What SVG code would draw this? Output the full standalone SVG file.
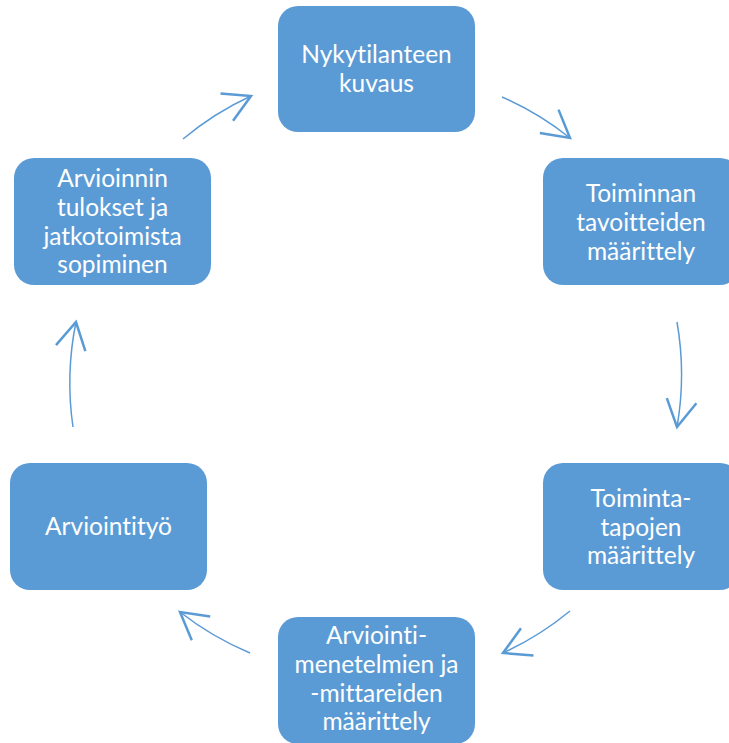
<svg xmlns="http://www.w3.org/2000/svg" width="729" height="743" viewBox="0 0 729 743">
<style>
.box{fill:#5B9BD5;}
.lbl{font-family:Lato,"Liberation Sans",Arial,sans-serif;font-size:24.5px;fill:#FFFFFF;text-anchor:middle;font-variant-ligatures:none;font-feature-settings:"liga" 0,"clig" 0,"dlig" 0;}
.conn{fill:none;stroke:#5B9BD5;stroke-width:1.5;marker-end:url(#ah);}
</style>
<defs>
<marker id="ah" markerUnits="userSpaceOnUse" markerWidth="40" markerHeight="40" viewBox="-20 -12 22 24" refX="0" refY="0" orient="auto" overflow="visible">
<path d="M-16,-9 L0,0 L-16,9" fill="none" stroke="#5B9BD5" stroke-width="1.5"/>
</marker>
</defs>
<rect width="729" height="743" fill="#FFFFFF"/>
<g id="connectors">
<path class="conn" d="M183,139 A305,305 0 0 1 251,96"/>
<path class="conn" d="M502,97 A305,305 0 0 1 570,138"/>
<path class="conn" d="M677,322 A305,305 0 0 1 677,427"/>
<path class="conn" d="M570,611 A305,305 0 0 1 503,653"/>
<path class="conn" d="M250,653 A305,305 0 0 1 180,612"/>
<path class="conn" d="M73,427 A305,305 0 0 1 76,322"/>
</g>
<g id="node1">
<rect class="box" x="278" y="6" width="197" height="126" rx="20"/>
<text class="lbl" x="376.5" y="63">Nykytilanteen</text>
<text class="lbl" x="376.5" y="92">kuvaus</text>
</g>
<g id="node2">
<rect class="box" x="543" y="158" width="197" height="127" rx="20"/>
<text class="lbl" x="641" y="202">Toiminnan</text>
<text class="lbl" x="641" y="231">tavoitteiden</text>
<text class="lbl" x="641" y="260">määrittely</text>
</g>
<g id="node3">
<rect class="box" x="543" y="463" width="197" height="127" rx="20"/>
<text class="lbl" x="641" y="507">Toiminta-</text>
<text class="lbl" x="641" y="536">tapojen</text>
<text class="lbl" x="641" y="564">määrittely</text>
</g>
<g id="node4">
<rect class="box" x="278" y="617" width="197" height="127" rx="20"/>
<text class="lbl" x="376.5" y="644">Arviointi-</text>
<text class="lbl" x="376.5" y="673">menetelmien ja</text>
<text class="lbl" x="376.5" y="702">-mittareiden</text>
<text class="lbl" x="376.5" y="730">määrittely</text>
</g>
<g id="node5">
<rect class="box" x="10" y="463" width="197" height="127" rx="20"/>
<text class="lbl" x="108.5" y="535">Arviointityö</text>
</g>
<g id="node6">
<rect class="box" x="14" y="158" width="197" height="127" rx="20"/>
<text class="lbl" x="112.5" y="187">Arvioinnin</text>
<text class="lbl" x="112.5" y="216">tulokset ja</text>
<text class="lbl" x="112.5" y="245">jatkotoimista</text>
<text class="lbl" x="112.5" y="273">sopiminen</text>
</g>
</svg>
